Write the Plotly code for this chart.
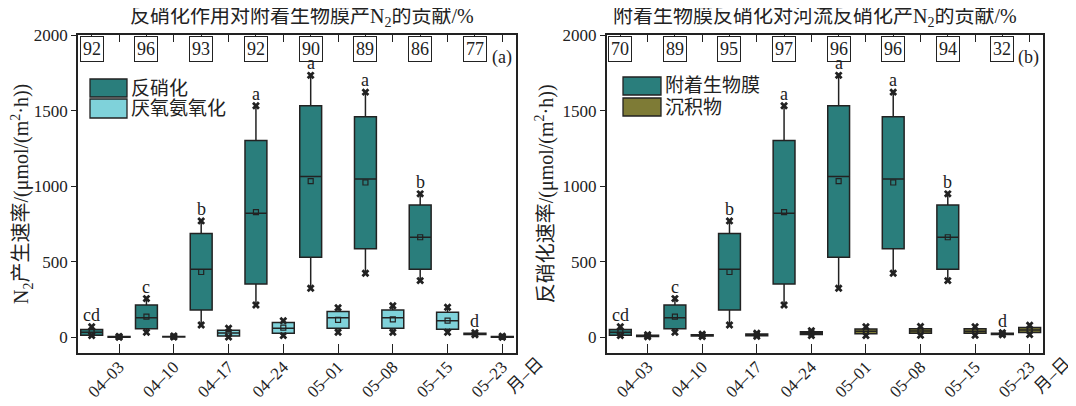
import plotly.graph_objects as go

dates = ["04–03", "04–10", "04–17", "04–24", "05–01", "05–08", "05–15", "05–23"]
unit_label = "月–日"

# biofilm denitrification (teal), same in both panels
den_low = [12, 33, 81, 214, 324, 424, 375, 16]
den_q1 = [14, 57, 181, 353, 530, 585, 450, 18]
den_med = [33, 130, 450, 821, 1064, 1048, 662, 22]
den_q3 = [52, 214, 686, 1302, 1532, 1459, 876, 26]
den_high = [70, 256, 770, 1532, 1733, 1622, 949, 30]
den_mean = [35, 137, 432, 828, 1033, 1024, 662, 22]
letters = ["cd", "c", "b", "a", "a", "a", "b", "d"]

# anammox (light cyan), panel a
ana_low = [0, 1, 2, 11, 33, 33, 33, 0]
ana_q1 = [1, 2, 8, 26, 60, 60, 53, 1]
ana_med = [3, 4, 28, 60, 130, 130, 110, 3]
ana_q3 = [5, 6, 46, 97, 170, 181, 166, 5]
ana_high = [6, 8, 60, 110, 196, 209, 199, 7]
ana_mean = [3, 4, 22, 64, 115, 119, 110, 3]

# sediment denitrification (olive), panel b
sed_low = [3, 5, 6, 12, 12, 14, 14, 18]
sed_q1 = [5, 8, 10, 18, 24, 26, 26, 32]
sed_med = [9, 12, 16, 27, 40, 41, 40, 48]
sed_q3 = [13, 16, 22, 36, 55, 57, 56, 64]
sed_high = [17, 20, 27, 44, 70, 72, 70, 80]
sed_mean = [9, 12, 16, 27, 40, 41, 40, 48]

pct_a = [92, 96, 93, 92, 90, 89, 86, 77]
pct_b = [70, 89, 95, 97, 96, 96, 94, 32]

TEAL = "#2a7e7c"
CYAN = "#7fd2da"
OLIVE = "#7e7b36"
DARK = "#222222"
FONT = "Liberation Serif, Noto Sans CJK SC"
OFF = 8  # default page margin of the html body
W, H = 1076 - OFF, 406 - OFF

pos_main = [2 * i for i in range(len(dates))]
pos_second = [2 * i + 1 for i in range(len(dates))]
unit_pos = 16.3

fig = go.Figure()


def add_boxes(xs, low, q1, med, q3, high, mean, color, xa, ya):
    fig.add_trace(go.Box(
        x=xs, q1=q1, median=med, q3=q3, lowerfence=low, upperfence=high,
        fillcolor=color, line=dict(color=DARK, width=1.5), width=0.8,
        whiskerwidth=0, boxpoints=False, showlegend=False,
        xaxis=xa, yaxis=ya, hoverinfo="skip"))
    fig.add_trace(go.Scatter(
        x=xs + xs, y=low + high, mode="markers",
        marker=dict(symbol="x", size=7, color=DARK, line=dict(width=0)),
        showlegend=False, xaxis=xa, yaxis=ya, hoverinfo="skip"))
    fig.add_trace(go.Scatter(
        x=xs, y=mean, mode="markers",
        marker=dict(symbol="square-open", size=5, color=DARK, line=dict(width=1.2)),
        showlegend=False, xaxis=xa, yaxis=ya, hoverinfo="skip"))


add_boxes(pos_main, den_low, den_q1, den_med, den_q3, den_high, den_mean, TEAL, "x", "y")
add_boxes(pos_second, ana_low, ana_q1, ana_med, ana_q3, ana_high, ana_mean, CYAN, "x", "y")
add_boxes(pos_main, den_low, den_q1, den_med, den_q3, den_high, den_mean, TEAL, "x2", "y2")
add_boxes(pos_second, sed_low, sed_q1, sed_med, sed_q3, sed_high, sed_mean, OLIVE, "x2", "y2")

# invisible traces to activate the helper axes (top ticks, unit label)
for xa, ya in (("x3", "y"), ("x4", "y2"), ("x5", "y"), ("x6", "y2")):
    fig.add_trace(go.Scatter(x=[-5], y=[-5000], mode="markers", marker=dict(opacity=0),
                             showlegend=False, xaxis=xa, yaxis=ya, hoverinfo="skip"))


def px(x):
    return (x - OFF) / W


def py(y):
    return 1 - (y - OFF) / H


xa_l, xa_r = 78, 516
xb_l, xb_r = 606.7, 1043.3
dom_a = [px(xa_l), px(xa_r)]
dom_b = [px(xb_l), px(xb_r)]
dom_y = [py(352.7), py(35)]
xr = [-0.5, 15.5]
yr = [-102, 2000]

# helper axes extending past the frame for the unit label
ext_a_r, ext_b_r = 560, 1070
rng_a5 = [-0.5, -0.5 + (ext_a_r - xa_l) * 16 / (xa_r - xa_l)]
rng_b6 = [-0.5, -0.5 + (ext_b_r - xb_l) * 16 / (xb_r - xb_l)]

tickfont = dict(family=FONT, size=17, color=DARK)
xcommon = dict(range=xr, tickvals=pos_second, ticktext=dates, tickangle=-45,
               ticks="inside", ticklen=9, tickwidth=1.3, tickcolor=DARK,
               showline=True, linecolor=DARK, linewidth=1.5, mirror=True,
               showgrid=False, zeroline=False, automargin=False,
               ticklabelstandoff=-4, tickfont=tickfont)
topcommon = dict(range=xr, tickvals=list(range(16)), ticks="inside", ticklen=7,
                 tickwidth=1.3, tickcolor=DARK, showticklabels=False, automargin=False,
                 showline=False, showgrid=False, zeroline=False, side="top")
unitcommon = dict(tickvals=[unit_pos], ticktext=[unit_label], tickangle=-45, ticks="",
                  showline=False, showgrid=False, zeroline=False, automargin=False,
                  anchor="free", position=dom_y[0], side="bottom",
                  ticklabelstandoff=-4, tickfont=tickfont)
ycommon = dict(range=yr, tickvals=[0, 500, 1000, 1500, 2000],
               ticks="outside", ticklen=5, tickwidth=1.3, tickcolor=DARK,
               showline=True, linecolor=DARK, linewidth=1.5, mirror=True,
               showgrid=False, zeroline=False, automargin=False, tickfont=tickfont)

fig.update_layout(
    template="none",
    width=W, height=H, margin=dict(l=0, r=0, t=0, b=0, pad=0),
    paper_bgcolor="white", plot_bgcolor="rgba(0,0,0,0)",
    font=dict(family=FONT, color=DARK),
    xaxis=dict(domain=dom_a, anchor="y", **xcommon),
    xaxis2=dict(domain=dom_b, anchor="y2", **xcommon),
    xaxis3=dict(overlaying="x", anchor="y", **topcommon),
    xaxis4=dict(overlaying="x2", anchor="y2", **topcommon),
    xaxis5=dict(domain=[px(xa_l), px(ext_a_r)], range=rng_a5, **unitcommon),
    xaxis6=dict(domain=[px(xb_l), px(ext_b_r)], range=rng_b6, **unitcommon),
    yaxis=dict(domain=dom_y, anchor="x",
               title=dict(text="N<sub>2</sub>产生速率/(μmol/(m<sup>2</sup>·h))",
                          font=dict(family=FONT, size=20, color=DARK), standoff=4),
               **ycommon),
    yaxis2=dict(domain=dom_y, anchor="x2",
                title=dict(text="反硝化速率/(μmol/(m<sup>2</sup>·h))",
                           font=dict(family=FONT, size=20, color=DARK), standoff=4),
                **ycommon),
)

ann = []
shapes = []
# titles
ann.append(dict(text="反硝化作用对附着生物膜产N<sub>2</sub>的贡献/%", x=px(302), y=py(17),
                xref="paper", yref="paper", xanchor="center", yanchor="middle",
                showarrow=False, font=dict(family=FONT, size=20, color=DARK)))
ann.append(dict(text="附着生物膜反硝化对河流反硝化产N<sub>2</sub>的贡献/%", x=px(815), y=py(17),
                xref="paper", yref="paper", xanchor="center", yanchor="middle",
                showarrow=False, font=dict(family=FONT, size=20, color=DARK)))

for xa, ya, pcts, lab in (("x", "y", pct_a, "(a)"), ("x2", "y2", pct_b, "(b)")):
    for p, v in zip(pos_main, pcts):
        ann.append(dict(text=str(v), x=p, y=py(49), xref=xa, yref="paper",
                        xanchor="center", yanchor="middle",
                        showarrow=False, bordercolor=DARK, borderwidth=1, borderpad=2,
                        bgcolor="white", font=dict(family=FONT, size=18, color=DARK)))
    for p, h, t in zip(pos_main, den_high, letters):
        ann.append(dict(text=t, x=p, y=h, xref=xa, yref=ya, xanchor="center",
                        yanchor="bottom", showarrow=False, yshift=0,
                        font=dict(family=FONT, size=18, color=DARK)))
    ann.append(dict(text=lab, x=1, y=py(57), xref=xa + " domain", yref="paper",
                    xanchor="right", yanchor="middle", xshift=-2, showarrow=False,
                    font=dict(family=FONT, size=18, color=DARK)))

# legends
legends = [
    (90, 127, [(79, 97, TEAL, "反硝化"), (99, 118, CYAN, "厌氧氨氧化")]),
    (623, 661, [(77, 95, TEAL, "附着生物膜"), (98, 116, OLIVE, "沉积物")]),
]
for x0, x1, items in legends:
    for y0, y1, col, txt in items:
        shapes.append(dict(type="rect", xref="paper", yref="paper",
                           x0=px(x0), x1=px(x1), y0=py(y1), y1=py(y0),
                           fillcolor=col, line=dict(color=DARK, width=1.3)))
        ann.append(dict(text=txt, x=px(x1 + 2), y=py((y0 + y1) / 2), xref="paper",
                        yref="paper", xanchor="left", yanchor="middle", showarrow=False,
                        font=dict(family=FONT, size=19, color=DARK)))

fig.update_layout(annotations=ann, shapes=shapes)
fig.write_html("out.html")
